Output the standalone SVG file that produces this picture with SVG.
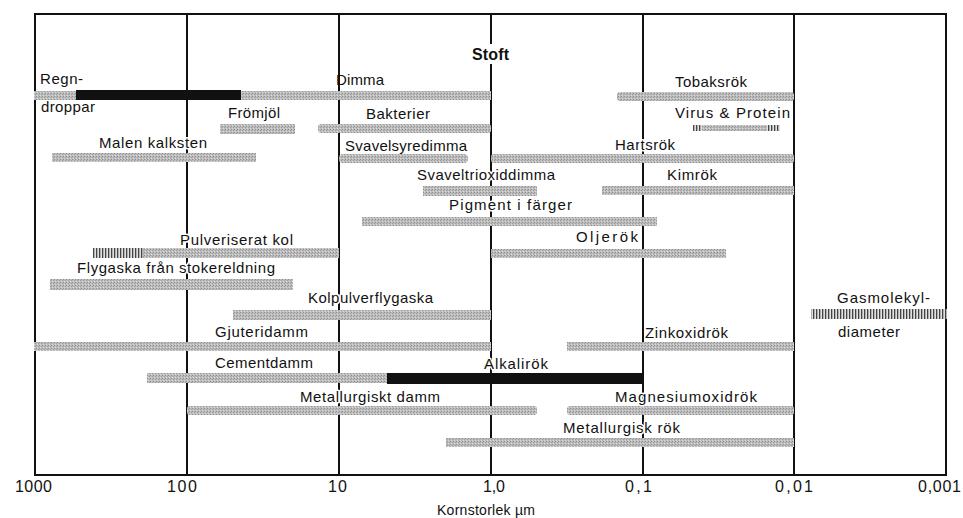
<svg xmlns="http://www.w3.org/2000/svg" width="963" height="518" viewBox="0 0 963 518">
<style>
text{font-family:"Liberation Sans",Arial,sans-serif;font-size:15px;fill:#111}
.ax{font-size:16px}
.t{font-weight:bold;font-size:16px}
.w{stroke:#fff;stroke-width:3;paint-order:stroke;stroke-linejoin:round}
.g{fill:url(#stip)}
.b{fill:#111}
.h{fill:url(#hatch)}
.ln{stroke:#111;stroke-width:2;fill:none}
</style>
<defs>
<pattern id="stip" width="3" height="3" patternUnits="userSpaceOnUse">
<rect width="3" height="3" fill="#bdbdbd"/>
<rect width="1" height="1" fill="#8f8f8f"/>
<rect x="2" y="1" width="1" height="1" fill="#9c9c9c"/>
<rect x="1" y="2" width="1" height="1" fill="#dadada"/>
</pattern>
<pattern id="hatch" width="3" height="10" patternUnits="userSpaceOnUse">
<rect width="3" height="10" fill="#e0e0e0"/>
<rect width="1.3" height="10" fill="#444"/>
</pattern>
</defs>
<g id="axes">
<rect class="ln" x="35" y="14" width="911" height="461"/>
<line class="ln" x1="187" y1="14" x2="187" y2="475"/>
<line class="ln" x1="339" y1="14" x2="339" y2="475"/>
<line class="ln" x1="491" y1="14" x2="491" y2="475"/>
<line class="ln" x1="643" y1="14" x2="643" y2="475"/>
<line class="ln" x1="794" y1="14" x2="794" y2="475"/>
<text class="ax" x="15" y="492" textLength="37">1000</text>
<text class="ax" x="167" y="492" textLength="30">100</text>
<text class="ax" x="328" y="492" textLength="19">10</text>
<text class="ax" x="483" y="492" textLength="22">1,0</text>
<text class="ax" x="625" y="492" textLength="27">0,1</text>
<text class="ax" x="775" y="492" textLength="38">0,01</text>
<text class="ax" x="918" y="492" textLength="43">0,001</text>
<text x="437" y="515" style="font-size:14px" textLength="98">Kornstorlek µm</text>
</g>
<g id="title">
<rect x="470" y="44" width="42" height="20" fill="#fff"/>
<text class="t" x="472" y="60" textLength="37">Stoft</text>
</g>
<g id="dimma"><rect class="g" x="34" y="91" width="457" height="9"/><text x="336" y="85" textLength="48">Dimma</text></g>
<g id="regndroppar"><rect class="b" x="76" y="90" width="165" height="10"/><text x="40" y="84" textLength="43">Regn-</text><text x="41" y="112" textLength="54">droppar</text></g>
<g id="tobaksrok"><rect class="g" x="617" y="92" width="177" height="9" rx="3"/><text x="675" y="87" textLength="72">Tobaksrök</text></g>
<g id="fromjol"><rect class="g" x="220" y="124" width="75" height="10"/><text x="228" y="118" textLength="52">Frömjöl</text></g>
<g id="bakterier"><rect class="g" x="318" y="124" width="173" height="9" rx="3"/><text x="366" y="119" textLength="64">Bakterier</text></g>
<g id="virus"><rect class="h" x="693" y="125" width="9" height="6"/><rect class="g" x="702" y="125" width="65" height="6"/><rect class="h" x="767" y="125" width="13" height="6"/><text x="675" y="118" textLength="115">Virus &amp; Protein</text></g>
<g id="malen"><rect class="g" x="52" y="153" width="204" height="9"/><text class="w" x="99" y="148" textLength="108">Malen kalksten</text></g>
<g id="svavelsyredimma"><rect class="g" x="339" y="154" width="129" height="9" rx="4"/><text x="345" y="151" textLength="122">Svavelsyredimma</text></g>
<g id="hartsrok"><rect class="g" x="491" y="154" width="303" height="9" rx="3"/><text class="w" x="615" y="150" textLength="60">Hartsrök</text></g>
<g id="svaveltrioxid"><rect class="g" x="423" y="186" width="114" height="10"/><text class="w" x="417" y="180" textLength="138">Svaveltrioxiddimma</text></g>
<g id="kimrok"><rect class="g" x="602" y="186" width="192" height="9"/><text x="667" y="180" textLength="50">Kimrök</text></g>
<g id="pigment"><rect class="g" x="362" y="217" width="295" height="9"/><text class="w" x="449" y="210" textLength="123">Pigment i färger</text></g>
<g id="pulveriserat"><rect class="h" x="93" y="248" width="50" height="10"/><rect class="g" x="143" y="248" width="196" height="10"/><text class="w" x="180" y="245" textLength="113">Pulveriserat kol</text></g>
<g id="oljerok"><rect class="g" x="491" y="249" width="235" height="9"/><text x="576" y="242" textLength="62">Oljerök</text></g>
<g id="flygaska"><rect class="g" x="50" y="279" width="243" height="11"/><text class="w" x="77" y="273" textLength="198">Flygaska från stokereldning</text></g>
<g id="kolpulver"><rect class="g" x="233" y="310" width="258" height="10"/><text class="w" x="308" y="303" textLength="125">Kolpulverflygaska</text></g>
<g id="gasmolekyl"><rect class="h" x="811" y="309" width="136" height="10"/><text x="837" y="303" textLength="93">Gasmolekyl-</text><text x="838" y="337" textLength="62">diameter</text></g>
<g id="gjuteridamm"><rect class="g" x="34" y="342" width="457" height="9"/><text x="215" y="337" textLength="93">Gjuteridamm</text></g>
<g id="zinkoxid"><rect class="g" x="567" y="342" width="227" height="9"/><text x="645" y="338" textLength="83">Zinkoxidrök</text></g>
<g id="cementdamm"><rect class="g" x="147" y="373" width="241" height="10"/><text x="215" y="368" textLength="98">Cementdamm</text></g>
<g id="alkalirok"><rect class="b" x="387" y="373" width="255" height="11"/><text class="w" x="484" y="369" textLength="64">Alkalirök</text></g>
<g id="metdamm"><rect class="g" x="187" y="406" width="350" height="9" rx="3"/><text class="w" x="300" y="402" textLength="140">Metallurgiskt damm</text></g>
<g id="magnesium"><rect class="g" x="567" y="406" width="227" height="9" rx="3"/><text class="w" x="615" y="402" textLength="142">Magnesiumoxidrök</text></g>
<g id="metrok"><rect class="g" x="446" y="438" width="348" height="9"/><text class="w" x="563" y="433" textLength="117">Metallurgisk rök</text></g>
</svg>
